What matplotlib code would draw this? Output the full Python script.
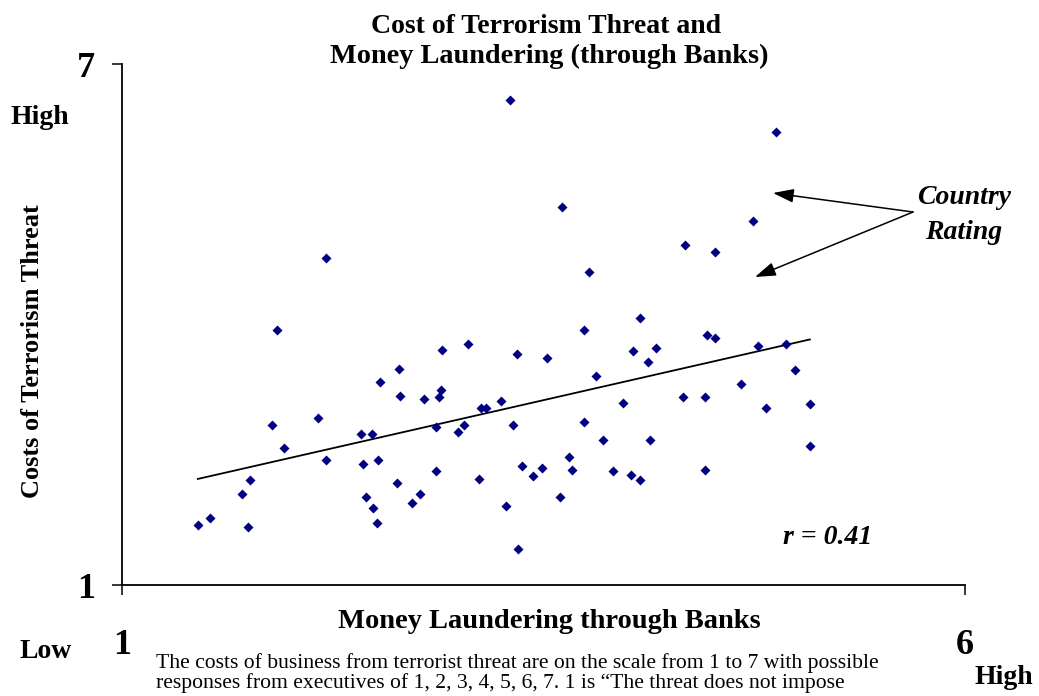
#!/usr/bin/env python
"""
Scatter of terrorism-threat cost against money laundering through banks,
with a linear trend line over the country ratings.
"""

# Third-party
import matplotlib

matplotlib.use("Agg")
import matplotlib.pyplot as plt  # noqa: E402
import numpy as np  # noqa: E402

# Country ratings (x: money laundering, y: terror cost)
MONEY_LAUNDERING = [
    1.45, 1.52, 1.71, 1.76, 1.75, 1.89, 1.92, 1.96, 2.16, 2.21,
    2.21, 2.42, 2.48, 2.43, 2.52, 2.45, 2.49, 2.51, 2.53, 2.64,
    2.65, 2.63, 2.72, 2.77, 2.79, 2.86, 2.86, 2.89, 2.88, 2.90,
    2.99, 3.03, 3.05, 3.12, 3.13, 3.16, 3.25, 3.28, 3.30, 3.32,
    3.34, 3.35, 3.37, 3.44, 3.49, 3.52, 3.60, 3.61, 3.65, 3.67,
    3.74, 3.74, 3.77, 3.81, 3.85, 3.91, 3.97, 4.02, 4.03, 4.07,
    4.07, 4.12, 4.13, 4.17, 4.33, 4.34, 4.46, 4.46, 4.47, 4.52,
    4.52, 4.67, 4.74, 4.77, 4.82, 4.88, 4.94, 4.99, 5.08, 5.08,
]
TERROR_COST = [
    1.69, 1.77, 2.05, 2.21, 1.67, 2.84, 3.94, 2.58, 2.92, 4.77,
    2.44, 2.74, 2.74, 2.39, 2.44, 2.01, 1.89, 1.71, 3.34, 3.49,
    3.18, 2.18, 1.95, 2.05, 3.14, 2.31, 2.82, 3.25, 3.16, 3.71,
    2.76, 2.84, 3.77, 2.22, 3.04, 3.04, 3.12, 1.91, 6.59, 2.84,
    3.66, 1.42, 2.37, 2.25, 2.35, 3.61, 2.01, 5.35, 2.47, 2.32,
    2.88, 3.94, 4.60, 3.41, 2.67, 2.31, 3.10, 2.27, 3.69, 4.07,
    2.21, 3.57, 2.67, 3.73, 3.16, 4.92, 3.16, 2.33, 3.88, 3.85,
    4.84, 3.32, 5.19, 3.75, 3.04, 6.22, 3.77, 3.48, 3.08, 2.60,
]
X_TICKS = [1, 6]
Y_TICKS = [1, 7]
R_LABEL = "r = 0.41"

W, H = 1039, 696
SERIF = "Liberation Serif"
NAVY = "#000080"


def fx(px):
    return px / W


def fy(py):
    return 1 - py / H


def create_chart():
    fig = plt.figure(figsize=(W / 100, H / 100), dpi=100)
    ax = fig.add_axes([fx(122), fy(585), fx(965) - fx(122), fy(64) - fy(585)])

    x = np.array(MONEY_LAUNDERING)
    y = np.array(TERROR_COST)

    ax.scatter(x, y, marker="D", s=26, color=NAVY, linewidths=0, zorder=3)

    # Linear trend over the data range
    slope, intercept = np.polyfit(x, y, 1)
    xs = np.array([x.min(), x.max()])
    ax.plot(xs, slope * xs + intercept, color="black", lw=1.3, zorder=2)

    ax.set_xlim(X_TICKS[0], X_TICKS[-1])
    ax.set_ylim(Y_TICKS[0], Y_TICKS[-1])
    ax.set_xticks(X_TICKS)
    ax.set_yticks(Y_TICKS)
    ax.spines["top"].set_visible(False)
    ax.spines["right"].set_visible(False)
    for s in ("left", "bottom"):
        ax.spines[s].set_linewidth(1.3)
    ax.tick_params(axis="both", direction="out", length=7.5, width=1.1)
    ax.tick_params(axis="y", pad=12)
    ax.tick_params(axis="x", pad=24)
    for lab in ax.get_xticklabels() + ax.get_yticklabels():
        lab.set_fontfamily(SERIF)
        lab.set_fontweight("bold")
        lab.set_fontsize(26)

    bold = dict(family=SERIF, fontweight="bold", fontsize=20)
    fig.text(fx(546), fy(33), "Cost of Terrorism Threat and",
             ha="center", va="baseline", **bold)
    fig.text(fx(549), fy(63), "Money Laundering (through Banks)",
             ha="center", va="baseline", fontsize=20.3,
             family=SERIF, fontweight="bold")
    fig.text(fx(549), fy(622), "Money Laundering through Banks",
             ha="center", va="center", family=SERIF, fontweight="bold",
             fontsize=20.5)
    fig.text(fx(33), fy(351), "Costs of Terrorism Threat",
             rotation=90, ha="center", va="center", family=SERIF,
             fontweight="bold", fontsize=19)
    fig.text(fx(40), fy(118), "High", ha="center", va="center", **bold)
    fig.text(fx(46), fy(652), "Low", ha="center", va="center", **bold)
    fig.text(fx(1004), fy(677), "High", ha="center", va="center", **bold)

    fig.text(fx(828), fy(538), R_LABEL, ha="center", va="center",
             family=SERIF, fontweight="bold", fontstyle="italic", fontsize=20)
    fig.text(fx(964), fy(215), "Country\nRating", ha="center", va="center",
             family=SERIF, fontweight="bold", fontstyle="italic", fontsize=20,
             linespacing=1.5)

    for tx, ty in [(773, 193), (755, 277)]:
        fig.add_artist(plt.Annotation(
            "", xy=(fx(tx), fy(ty)), xytext=(fx(913), fy(212)),
            xycoords="figure fraction", textcoords="figure fraction",
            arrowprops=dict(arrowstyle="-|>,head_length=0.9,head_width=0.3",
                            color="black", lw=1.1, shrinkA=0, shrinkB=0,
                            mutation_scale=14),
        ))

    # va="baseline" on multi-line text pins the last line's baseline
    fig.text(fx(156), fy(688),
             "The costs of business from terrorist threat are on the scale "
             "from 1 to 7 with possible\nresponses from executives of 1, 2, "
             "3, 4, 5, 6, 7. 1 is \u201cThe threat does not impose",
             ha="left", va="baseline", family=SERIF, fontsize=15.6,
             linespacing=1.02)

    fig.savefig("out.png", dpi=100)
    return fig


def main():
    create_chart()


if __name__ == "__main__":
    main()
